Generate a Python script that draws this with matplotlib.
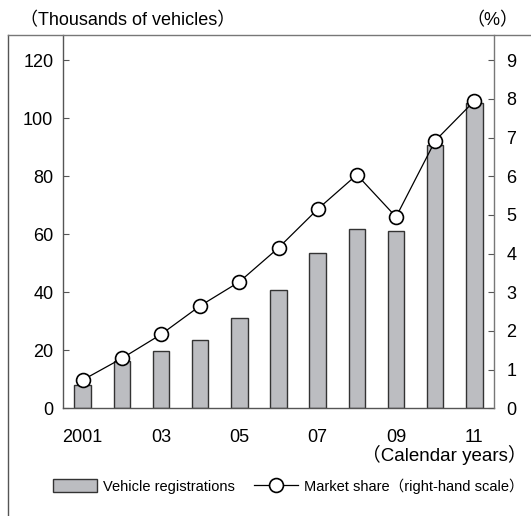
import matplotlib
matplotlib.use("Agg")
import matplotlib.pyplot as plt
from matplotlib.lines import Line2D

# ---- data ----
years = [2001, 2002, 2003, 2004, 2005, 2006, 2007, 2008, 2009, 2010, 2011]
registrations = [8.0, 16.3, 19.8, 23.6, 31.0, 40.7, 53.4, 61.7, 61.1, 90.7, 105.2]
market_share = [0.73, 1.29, 1.91, 2.65, 3.27, 4.15, 5.15, 6.04, 4.95, 6.92, 7.95]
xtick_years = [2001, 2003, 2005, 2007, 2009, 2011]
xtick_labels = ["2001", "03", "05", "07", "09", "11"]
left_ticks = [0, 20, 40, 60, 80, 100, 120]
right_ticks = [0, 1, 2, 3, 4, 5, 6, 7, 8, 9]

FONT = ["Liberation Sans", "Noto Sans CJK JP", "DejaVu Sans"]
plt.rcParams["font.family"] = FONT

W, H = 531, 516
fig = plt.figure(figsize=(W / 100, H / 100), dpi=100)

def fx(px):
    return px / W

def fy(py):
    return 1 - py / H

ax_l, ax_r, ax_t, ax_b = 63, 494, 35, 408.3
ax = fig.add_axes([fx(ax_l), fy(ax_b), fx(ax_r) - fx(ax_l), fy(ax_t) - fy(ax_b)])

bar_color = "#bcbdc1"
edge_color = "#333333"
spine_color = "#555555"

bars = ax.bar(years, registrations, width=0.42, color=bar_color,
              edgecolor=edge_color, linewidth=1.0, zorder=2,
              label="Vehicle registrations")
ax.set_xlim(years[0] - 0.5, years[-1] + 0.5)
ymax_left = (ax_b - ax_t) / ((ax_b - 60.3) / 120)
ax.set_ylim(0, ymax_left)
ax.set_yticks(left_ticks)
ax.set_yticklabels([str(v) for v in left_ticks])
ax.set_xticks(xtick_years)
ax.set_xticklabels(xtick_labels)
ax.tick_params(axis="y", direction="in", length=4, width=0.8, color=spine_color,
               labelsize=13, pad=7)
ax.tick_params(axis="x", length=0, labelsize=13, pad=15)
for s in ["top", "right"]:
    ax.spines[s].set_visible(False)
for s in ["left", "bottom"]:
    ax.spines[s].set_color(spine_color)
    ax.spines[s].set_linewidth(1.0)

ax2 = ax.twinx()
ax2.set_ylim(0, ymax_left * 9 / 120)
ax2.set_yticks(right_ticks)
ax2.set_yticklabels([str(v) for v in right_ticks])
ax2.tick_params(axis="y", direction="in", length=4, width=0.8, color=spine_color,
                labelsize=13, pad=9)
for s in ["top", "left", "bottom"]:
    ax2.spines[s].set_visible(False)
ax2.spines["right"].set_color("#777777")
ax2.spines["right"].set_linewidth(1.0)

line, = ax2.plot(years, market_share, color="black", linewidth=0.9,
                 marker="o", markersize=10, markerfacecolor="white",
                 markeredgecolor="black", markeredgewidth=1.2, zorder=3,
                 label="Market share\uff08right-hand scale\uff09")
ax2.set_zorder(ax.get_zorder() + 1)
ax2.patch.set_visible(False)

# outer frame (left and top lines)
fig.add_artist(Line2D([fx(7.5), fx(7.5)], [fy(35), 0], transform=fig.transFigure,
                      color="#555555", linewidth=1.0))
fig.add_artist(Line2D([fx(7.5), 1], [fy(35), fy(35)], transform=fig.transFigure,
                      color="#777777", linewidth=1.0))

# unit labels
fig.text(fx(20), fy(21), "\uff08Thousands of vehicles\uff09", ha="left", va="center",
         fontsize=13, family=FONT)
fig.text(fx(518), fy(21), "\uff08%\uff09", ha="right", va="center",
         fontsize=13, family=FONT)
fig.text(fx(527), fy(455), "\uff08Calendar years\uff09", ha="right", va="center",
         fontsize=13.5, family=FONT)

leg = fig.legend(handles=[bars, line], loc="center left",
                 bbox_to_anchor=(fx(53), fy(486)), ncol=2, frameon=False,
                 handlelength=3.0, handleheight=1.0, handletextpad=0.45,
                 columnspacing=1.3, borderpad=0, borderaxespad=0,
                 prop={"family": FONT, "size": 10.5})

fig.savefig("out.png", dpi=100)
